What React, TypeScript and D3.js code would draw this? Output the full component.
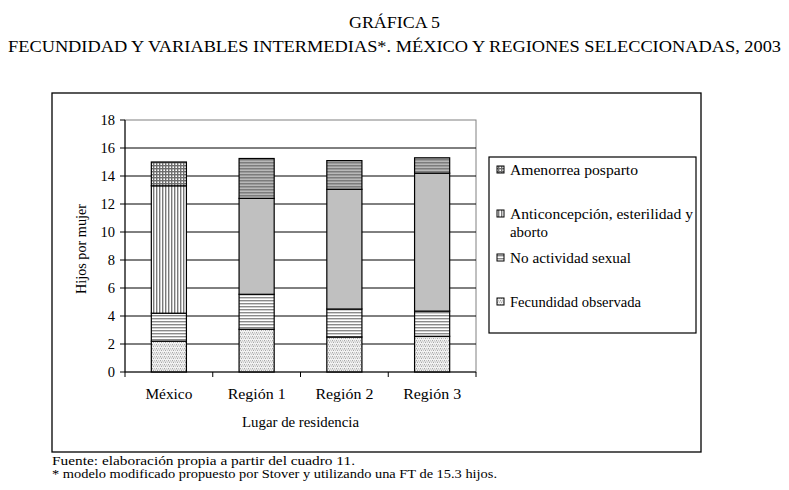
import React from "react";
import * as d3 from "d3";

const categories = ["México", "Región 1", "Región 2", "Región 3"];
const fecundidad = [2.2, 3.05, 2.5, 2.55];
const noActividad = [2.0, 2.5, 2.0, 1.8];
const anticoncepcion = [9.1, 6.85, 8.55, 9.85];
const amenorrea = [1.7, 2.85, 2.05, 1.1];
const yTicks = [0, 2, 4, 6, 8, 10, 12, 14, 16, 18];
const seriesNames = ["Fecundidad observada", "No actividad sexual", "Anticoncepción, esterilidad y aborto", "Amenorrea posparto"];

const FONT = "Liberation Serif, Tinos, Times New Roman, Times, serif";

// pattern per series for México (first) and regions (others)
const patMexico = ["pDots", "pHoriz", "pVert", "pGrid"];
const patRegion = ["pDots", "pHoriz", "pSolid", "pDarkHoriz"];

export default function App() {
  const W = 789, H = 490;
  const left = 125, right = 476, top = 120, bottom = 372;
  const y = d3.scaleLinear().domain([0, 18]).range([bottom, top]);
  const x = d3.scaleBand().domain(categories).range([left, right]).paddingInner(0.6).paddingOuter(0.3);
  const series = [fecundidad, noActividad, anticoncepcion, amenorrea];
  const stackData = categories.map((c, i) => {
    const o: any = { cat: c };
    series.forEach((s, k) => (o["s" + k] = s[i]));
    return o;
  });
  const stack = d3.stack().keys(["s0", "s1", "s2", "s3"])(stackData as any);
  const step = x.step();

  const legendItems = [
    { pat: "pGrid", lines: ["Amenorrea posparto"], lens: [128], cy: 170 },
    { pat: "pVert", lines: ["Anticoncepción, esterilidad y", "aborto"], lens: [183, 38], cy: 214 },
    { pat: "pHoriz", lines: ["No actividad sexual"], lens: [121], cy: 258 },
    { pat: "pDots", lines: ["Fecundidad observada"], lens: [131], cy: 302 },
  ];

  const ts = { fontFamily: FONT } as React.CSSProperties;

  return (
    <svg width={W} height={H} style={{ position: "absolute", left: 0, top: 0, fontFamily: FONT }}>
      <defs>
        <pattern id="pDots" width="4" height="4" patternUnits="userSpaceOnUse">
          <rect width="4" height="4" fill="#f2f2f2" />
          <rect x="0" y="0" width="1" height="1" fill="#a8a8a8" />
          <rect x="2" y="0" width="1" height="1" fill="#c8c8c8" />
          <rect x="1" y="2" width="1" height="1" fill="#a8a8a8" />
          <rect x="3" y="2" width="1" height="1" fill="#c8c8c8" />
          <rect x="0" y="1" width="4" height="1" fill="#dcdcdc" />
        </pattern>
        <pattern id="pHoriz" width="4" height="3" patternUnits="userSpaceOnUse">
          <rect width="4" height="3" fill="#ffffff" />
          <rect y="0" width="4" height="1.4" fill="#8a8a8a" />
        </pattern>
        <pattern id="pVert" width="3" height="4" patternUnits="userSpaceOnUse">
          <rect width="3" height="4" fill="#ffffff" />
          <rect x="0" width="1.4" height="4" fill="#7a7a7a" />
        </pattern>
        <pattern id="pGrid" width="3" height="3" patternUnits="userSpaceOnUse">
          <rect width="3" height="3" fill="#ffffff" />
          <rect x="0" width="1.4" height="3" fill="#6e6e6e" />
          <rect y="0" width="3" height="1.4" fill="#6e6e6e" />
        </pattern>
        <pattern id="pSolid" width="4" height="4" patternUnits="userSpaceOnUse">
          <rect width="4" height="4" fill="#c0c0c0" />
        </pattern>
        <pattern id="pDarkHoriz" width="4" height="3" patternUnits="userSpaceOnUse">
          <rect width="4" height="3" fill="#b8b8b8" />
          <rect y="0" width="4" height="1.5" fill="#7c7c7c" />
        </pattern>
      </defs>
      <rect width={W} height={H} fill="#fff" />

      {/* Titles */}
      <text style={ts} x={394.5} y={28} textAnchor="middle" fontSize={16} textLength={91} lengthAdjust="spacingAndGlyphs">GRÁFICA 5</text>
      <text style={ts} x={394.5} y={52} textAnchor="middle" fontSize={16} textLength={773} lengthAdjust="spacingAndGlyphs">
        FECUNDIDAD Y VARIABLES INTERMEDIAS*. MÉXICO Y REGIONES SELECCIONADAS, 2003
      </text>

      {/* Outer frame */}
      <rect x={52} y={93} width={649} height={359} fill="none" stroke="#000" strokeWidth={1.3} />

      {/* Plot border (gray) */}
      <rect x={left} y={top} width={right - left} height={bottom - top} fill="none" stroke="#808080" strokeWidth={1} />

      {/* Gridlines */}
      {yTicks.slice(1, -1).map((t) => (
        <line key={t} x1={left} x2={right} y1={y(t)} y2={y(t)} stroke="#000" strokeWidth={1} />
      ))}

      {/* Bars */}
      {stack.map((layer, k) =>
        layer.map((d, i) => (
          <rect
            key={k + "-" + i}
            x={x(categories[i])!}
            y={y(d[1])}
            width={x.bandwidth()}
            height={y(d[0]) - y(d[1])}
            fill={`url(#${i === 0 ? patMexico[k] : patRegion[k]})`}
            stroke="#000"
            strokeWidth={1.2}
          />
        ))
      )}

      {/* Y axis */}
      <line x1={left} x2={left} y1={top} y2={bottom} stroke="#000" strokeWidth={1} />
      {yTicks.map((t) => (
        <g key={t}>
          <line x1={left - 5} x2={left} y1={y(t)} y2={y(t)} stroke="#000" />
          <text style={ts} x={left - 10} y={y(t) + 5} textAnchor="end" fontSize={14.5}>{t}</text>
        </g>
      ))}
      <text style={ts} transform={`translate(86,249) rotate(-90)`} textAnchor="middle" fontSize={14.5} textLength={90} lengthAdjust="spacingAndGlyphs">Hijos por mujer</text>

      {/* X axis */}
      <line x1={left} x2={right} y1={bottom} y2={bottom} stroke="#000" strokeWidth={1} />
      {d3.range(categories.length + 1).map((i) => (
        <line key={i} x1={left + i * step} x2={left + i * step} y1={bottom} y2={bottom + 5} stroke="#000" />
      ))}
      {categories.map((c) => (
        <text style={ts} key={c} x={x(c)! + x.bandwidth() / 2} y={399} textAnchor="middle" fontSize={14.5} textLength={c === "México" ? 47 : 58} lengthAdjust="spacingAndGlyphs">{c}</text>
      ))}
      <text style={ts} x={(left + right) / 2} y={427} textAnchor="middle" fontSize={14.5} textLength={117} lengthAdjust="spacingAndGlyphs">Lugar de residencia</text>

      {/* Legend */}
      <rect x={489} y={157} width={207} height={176} fill="#fff" stroke="#000" strokeWidth={1.2} />
      {legendItems.map((it) => (
        <g key={it.pat}>
          <rect x={497} y={it.cy - 4} width={7} height={7} fill={`url(#${it.pat})`} stroke="#000" strokeWidth={1} />
          {it.lines.map((l, j) => (
            <text style={ts} key={j} x={510} y={it.cy + 5 + j * 18} fontSize={14.5} textLength={it.lens[j]} lengthAdjust="spacingAndGlyphs">{l}</text>
          ))}
        </g>
      ))}

      {/* Footnotes */}
      <text style={ts} x={52} y={465} fontSize={12.5} textLength={303} lengthAdjust="spacingAndGlyphs">Fuente: elaboración propia a partir del cuadro 11.</text>
      <text style={ts} x={52} y={477.5} fontSize={12.5} textLength={445} lengthAdjust="spacingAndGlyphs">* modelo modificado propuesto por Stover y utilizando una FT de 15.3 hijos.</text>
    </svg>
  );
}
